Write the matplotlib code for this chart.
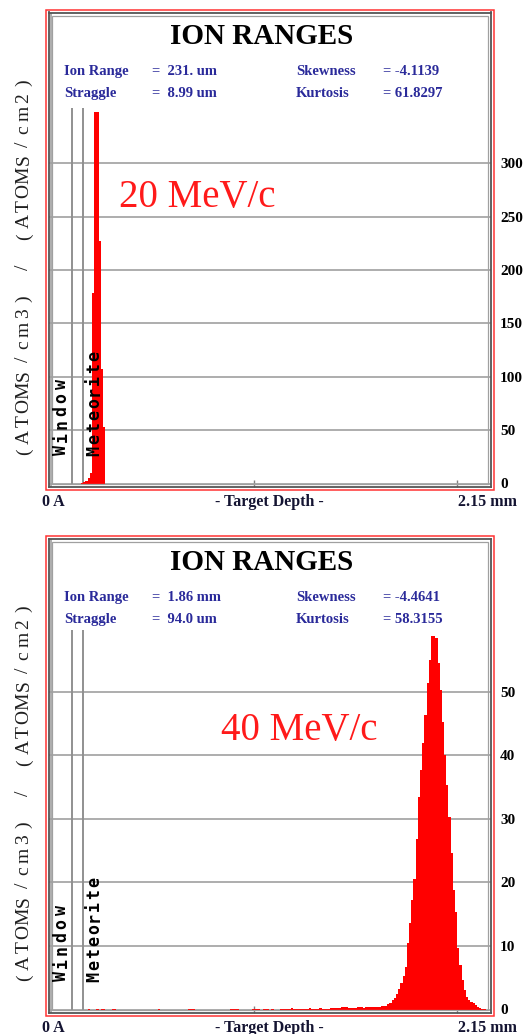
import matplotlib.pyplot as plt
import numpy as np
from matplotlib.patches import Rectangle

# SRIM-style ion range histograms, two panels stacked
W, H = 528, 1034
N_BINS = 200
DEPTH_MAX = 2.15  # mm
BIN_W = DEPTH_MAX / N_BINS

# layer boundaries (mm)
layer_lines = [0.104, 0.158]

# --- panel 1 : 20 MeV/c ---
top_bins = [14, 15, 16, 17, 18, 19, 20, 21, 22, 23, 24]
top_counts = [0.5, 1, 2, 5, 9.5, 178.5, 348, 348, 227.5, 107.3, 52.9]
top_yticks = [0, 50, 100, 150, 200, 250, 300]
top_stats = [("Ion Range", "=  231. um", "Skewness", "= -4.1139"),
             ("Straggle", "=  8.99 um", "Kurtosis", "= 61.8297")]

# --- panel 2 : 40 MeV/c ---
bot_bins = [17, 21, 23, 24, 28, 29, 49, 63, 64, 65, 82, 83, 84, 85,
            92, 93, 94, 95, 97, 98, 99, 101,
            105, 106, 107, 108, 109, 110, 111, 112, 113, 114, 115, 116,
            117, 118, 119, 120, 121, 122, 123, 124, 125, 126, 127,
            128, 129, 130, 131, 132, 133, 134, 135, 136, 137, 138, 139,
            140, 141, 142, 143, 144, 145, 146, 147, 148, 149, 150,
            151, 152, 153, 154, 155, 156, 157, 158, 159, 160, 161, 162,
            163, 164, 165, 166, 167, 168, 169, 170, 171, 172, 173,
            174, 175, 176, 177, 178, 179, 180, 181, 182, 183, 184,
            185, 186, 187, 188, 189, 190, 191, 192, 193, 194, 195,
            196, 197, 198]
bot_counts = [0.15, 0.15, 0.15, 0.15, 0.15, 0.15, 0.15, 0.15, 0.15, 0.15,
              0.15, 0.15, 0.15, 0.15,
              0.15, 0.15, 0.15, 0.15, 0.15, 0.15, 0.15, 0.15,
              0.15, 0.15, 0.12, 0.15, 0.15, 0.18, 0.15, 0.15, 0.12, 0.15,
              0.15, 0.15, 0.15, 0.18, 0.15, 0.15, 0.15, 0.15, 0.18, 0.15,
              0.15, 0.15, 0.15,
              0.2, 0.2, 0.2, 0.2, 0.25, 0.45, 0.45, 0.45, 0.3, 0.3, 0.3, 0.3,
              0.35, 0.35, 0.35, 0.3, 0.35, 0.35, 0.4, 0.35, 0.35, 0.4, 0.4,
              0.55, 0.55, 0.55, 0.9, 1.0, 1.5, 1.8, 2.5, 3.3, 4.1, 5.2, 6.7,
              10.4, 13.6, 17.2, 20.6, 26.9, 33.5, 37.7, 41.9, 46.4, 51.3, 55.0,
              58.7, 58.7, 58.5, 54.5, 50.3, 45.3, 40.0, 35.3, 30.3, 24.6, 18.8,
              15.4, 9.6, 7.0, 4.6, 3.1, 2.0, 1.5, 1.2, 1.0, 0.7, 0.45,
              0.3, 0.15, 0.05]
bot_yticks = [0, 10, 20, 30, 40, 50]
bot_stats = [("Ion Range", "=  1.86 mm", "Skewness", "= -4.4641"),
             ("Straggle", "=  94.0 um", "Kurtosis", "= 58.3155")]

SERIF = "Liberation Serif"
MONO = "DejaVu Sans Mono"
NAVY = "#2a2a9a"
YLABEL = "(ATOMS/cm3) / (ATOMS/cm2)"

fig = plt.figure(figsize=(W / 100, H / 100), dpi=100)


def fx(px):
    return px / W


def fy(py):
    return 1 - py / H


def vtext(xc, y_first, pitch, s, **kw):
    # rotated text, one character at a time (letter spaced)
    for i, ch in enumerate(s):
        if ch != " ":
            fig.text(fx(xc), fy(y_first - i * pitch), ch, rotation=90,
                     ha="center", va="center", **kw)


def panel(off, bins, counts, yticks, px_unit, line_top, stats, energy, exy):
    x0, px_mm = 50.5, 203.4
    left, right = 48.5, 490.5
    top, bottom = 12.5 + off, 486.5 + off
    base = 483.5 + off

    ax = fig.add_axes([fx(left), fy(bottom), (right - left) / W, (bottom - top) / H])
    ax.set_xlim((left - x0) / px_mm, (right - x0) / px_mm)
    ax.set_ylim(-(bottom - base) / px_unit, (base - top) / px_unit)

    hist = np.zeros(N_BINS)
    hist[bins] = counts
    edges = np.arange(N_BINS + 1) * BIN_W
    ax.stairs(hist, edges, fill=True, color="#ff0000", lw=0, zorder=2)

    ax.set_yticks(yticks)
    ax.grid(axis="y", color="#a0a0a0", lw=1.2)
    ax.set_axisbelow(True)
    ax.yaxis.tick_right()
    ax.tick_params(axis="y", length=0, pad=6.8, labelsize=11)
    for lab in ax.get_yticklabels():
        lab.set_fontfamily(SERIF)
        lab.set_fontweight("bold")

    ax.set_xticks([1, 2])
    ax.set_xticklabels([])
    ax.tick_params(axis="x", direction="in", length=5, color="#808080", width=1)

    ax.axvline(0, color="#a0a0a0", lw=1.2, zorder=1)
    ax.vlines(layer_lines, 0, line_top, color="#909090", lw=1.4, zorder=1)
    for sp in ax.spines.values():
        sp.set_color("#555555")
        sp.set_linewidth(1.3)

    # frames
    fig.patches.append(Rectangle((fx(45.7), fy(490 + off)), (494.3 - 45.7) / W,
                                 (490 - 10) / H, transform=fig.transFigure,
                                 fill=False, ec="#ff3333", lw=1.1))
    fig.patches.append(Rectangle((fx(51.5), fy(base)), (488 - 51.5) / W,
                                 (base - 15.5 - off) / H, transform=fig.transFigure,
                                 fill=False, ec="#a0a0a0", lw=0.9))

    fig.text(fx(262), fy(44.3 + off), "ION RANGES", ha="center", va="baseline",
             fontsize=21, fontweight="bold", family=SERIF)
    for row, yb in zip(stats, [75, 96.7]):
        for txt, xp in zip(row, [64.5, 152, 296, 383]):
            fig.text(fx(xp), fy(yb + off), txt, ha="left", va="baseline",
                     fontsize=10.5, fontweight="bold", family=SERIF, color=NAVY)

    fig.text(fx(exy[0]), fy(exy[1]), energy, ha="center", va="baseline",
             fontsize=28, family=SERIF, color="#ff1a1a")

    vtext(61.5, 450.4 + off, 13.2, "Window", fontsize=12, fontweight="bold",
          family=MONO, color="black")
    vtext(94, 451 + off, 11.9, "Meteorite", fontsize=12, fontweight="bold",
          family=MONO, color="black")
    vtext(24, 452 + off, 15.375, YLABEL, fontsize=14, family=SERIF,
          color="#202020")

    fig.text(fx(41.7), fy(505.5 + off), "0 A", ha="left", va="baseline",
             fontsize=11.5, fontweight="bold", family=SERIF, color="#141432")
    fig.text(fx(269), fy(505.5 + off), "- Target Depth -", ha="center",
             va="baseline", fontsize=11.5, fontweight="bold", family=SERIF,
             color="#141432")
    fig.text(fx(488), fy(505.5 + off), "2.15 mm", ha="center", va="baseline",
             fontsize=11.5, fontweight="bold", family=SERIF, color="#141432")
    return ax


panel(0, top_bins, top_counts, top_yticks, 1.0673, 351.8, top_stats,
      "20 MeV/c", (197.5, 206.7))
panel(526, bot_bins, bot_counts, bot_yticks, 6.356, 59.7, bot_stats,
      "40 MeV/c", (299, 740))

fig.savefig("out.png", dpi=100)
